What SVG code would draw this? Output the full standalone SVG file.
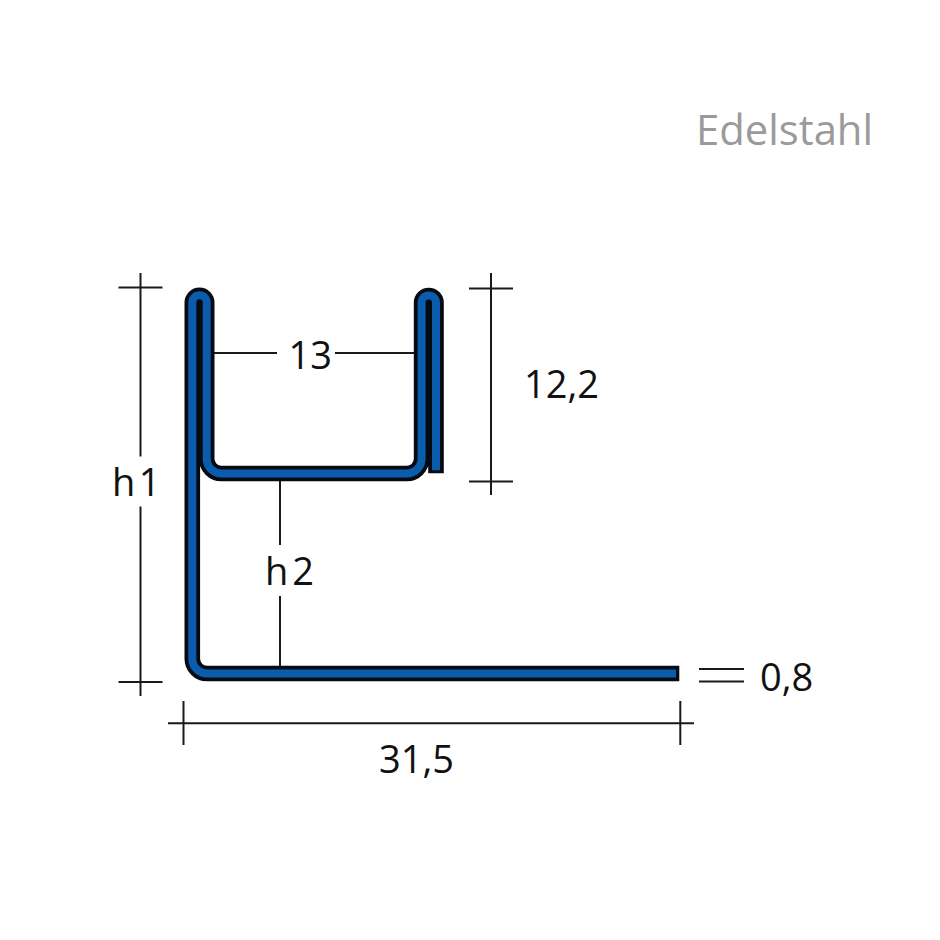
<svg xmlns="http://www.w3.org/2000/svg" width="940" height="940" viewBox="0 0 940 940">
<style>
.d{fill:none;stroke:#1a1a1a;stroke-width:2}
.t{font-family:"Open Sans","Noto Sans",sans-serif;font-size:38px;fill:#111}
.o{fill:none;stroke:#060a12;stroke-width:15.6;stroke-linejoin:round}
.b{fill:none;stroke:#0a5cad;stroke-width:8}
</style>
<rect width="940" height="940" fill="#fff"/>
<g id="dimensions">
<path class="d" d="M118.500 287.500H162.500M140.500 273V456.500M140.500 506.500V696M118.500 682H162.500"/>
<path class="d" d="M214 353H277M335 353H414"/>
<path class="d" d="M469 288.500H513M491 273V495M469 481.500H513"/>
<path class="d" d="M280 481V545M280 596V666"/>
<path class="d" d="M699 669H744M699 681.500H744"/>
<path class="d" d="M168 723.300H694M183.500 701V745M680.300 701V745"/>
</g>
<g id="profile">
<path class="o" d="M679.300 673.500H207A14.700 14.700 0 0 1 192.300 658.800V302.500A7.200 7.200 0 0 1 206.700 302.500V458.800A14.700 14.700 0 0 0 221.400 473.500H406.900A14.700 14.700 0 0 0 421.600 458.800V302.700A7.200 7.200 0 0 1 436 302.700V473.300"/>
<path class="b" d="M676 673.500H207A14.700 14.700 0 0 1 192.300 658.800V302.500A7.200 7.200 0 0 1 206.700 302.500V458.800A14.700 14.700 0 0 0 221.400 473.500H406.900A14.700 14.700 0 0 0 421.600 458.800V302.700A7.200 7.200 0 0 1 436 302.700V470.300"/>
</g>
<g id="labels">
<text class="t" x="696" y="145" style="fill:#9a9a9a;font-size:41.800px">Edelstahl</text>
<text class="t" x="288.500" y="369">13</text>
<text class="t" x="524" y="398">12,2</text>
<text class="t" x="112" y="496">h<tspan dx="3.500">1</tspan></text>
<text class="t" x="265" y="585">h<tspan dx="4">2</tspan></text>
<text class="t" x="760" y="691">0,8</text>
<text class="t" x="379" y="773">31,5</text>
</g>
</svg>
